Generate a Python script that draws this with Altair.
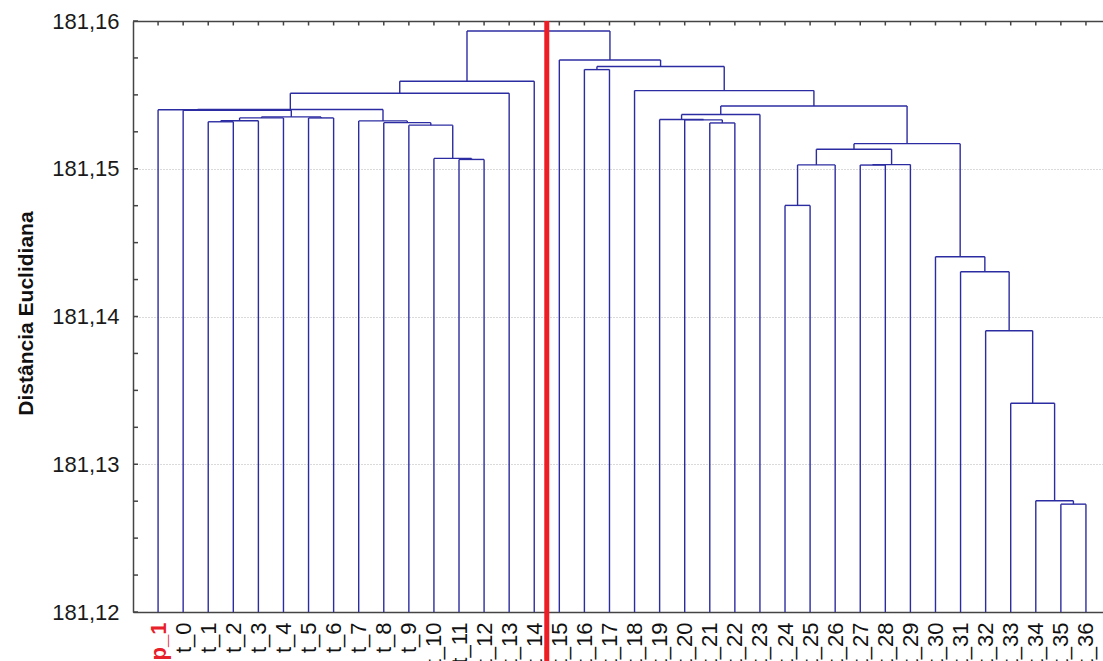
import altair as alt
import pandas as pd

# Leaves of the dendrogram, in display order
leaf_names = [
    "p_1", "t_0", "t_1", "t_2", "t_3", "t_4", "t_5", "t_6", "t_7", "t_8",
    "t_9", "t_10", "t_11", "t_12", "t_13", "t_14", "t_15", "t_16", "t_17",
    "t_18", "t_19", "t_20", "t_21", "t_22", "t_23", "t_24", "t_25", "t_26",
    "t_27", "t_28", "t_29", "t_30", "t_31", "t_32", "t_33", "t_34", "t_35",
    "t_36",
]

# Linkage table: ids < 38 are leaves, id 38 + k is the cluster made by merge k
left_child = [
    36, 35, 34, 33, 32, 31, 25, 44, 28, 46, 45, 48, 22, 21, 20, 52, 53, 19,
    17, 56, 16, 12, 11, 10, 9, 8, 2, 64, 65, 6, 66, 1, 0, 70, 71, 72, 73,
]
right_child = [
    37, 38, 39, 40, 41, 42, 26, 27, 29, 30, 47, 43, 23, 50, 51, 24, 49, 54,
    18, 55, 57, 13, 59, 60, 61, 62, 3, 4, 5, 7, 67, 68, 69, 63, 14, 15, 58,
]
merge_height = [
    181.12730, 181.12753, 181.13413, 181.13904, 181.14303, 181.14404,
    181.14752, 181.15026, 181.15025, 181.15028, 181.15132, 181.15170,
    181.15310, 181.15331, 181.15333, 181.15367, 181.15425, 181.15529,
    181.15671, 181.15692, 181.15736,
    181.15063, 181.15070, 181.15295, 181.15312, 181.15324,
    181.15318, 181.15325, 181.15344, 181.15344, 181.15351,
    181.15396, 181.15399, 181.15401, 181.15511, 181.15592, 181.15932,
]

cut_position = 15.5          # cut between t_14 and t_15
y_labels = [181.12, 181.13, 181.14, 181.15, 181.16]
y_ticks = [
    181.12, 181.1225, 181.125, 181.1275, 181.13, 181.1325, 181.135, 181.1375,
    181.14, 181.1425, 181.145, 181.1475, 181.15, 181.1525, 181.155, 181.1575,
    181.16,
]

Y_MIN, Y_MAX = 181.12, 181.16
X_MIN, X_MAX = -1.0, 37.68
FONT = "Liberation Sans"

# Dendrogram layout: leaves at their index, clusters at the midpoint of children
n = len(leaf_names)
xpos = {i: float(i) for i in range(n)}
ytop = {i: Y_MIN for i in range(n)}
rows = []
for k, (a, b, h) in enumerate(zip(left_child, right_child, merge_height)):
    xa, xb = xpos[a], xpos[b]
    rows.append({"x": xa, "x2": xa, "y": ytop[a], "y2": h})
    rows.append({"x": xb, "x2": xb, "y": ytop[b], "y2": h})
    rows.append({"x": xa, "x2": xb, "y": h, "y2": h})
    xpos[n + k] = (xa + xb) / 2
    ytop[n + k] = h
segments = pd.DataFrame(rows)

xscale = alt.Scale(domain=[X_MIN, X_MAX], nice=False, zero=False)
yscale = alt.Scale(domain=[Y_MIN, Y_MAX], nice=False, zero=False)

name_array = "[" + ",".join("'%s'" % s for s in leaf_names) + "]"

tree = alt.Chart(segments).mark_rule(color="#2c2ca2", strokeWidth=1.4).encode(
    x=alt.X(
        "x:Q", scale=xscale,
        axis=alt.Axis(
            orient="bottom", values=list(range(n)), labelExpr=name_array + "[datum.value]",
            labelAngle=270, labelAlign="right", labelBaseline="middle",
            labelPadding=10, labelFont=FONT, labelFontSize=22,
            labelColor={"condition": {"test": "datum.value == 0", "value": "#e8202a"}, "value": "#111111"},
            labelFontWeight={"condition": {"test": "datum.value == 0", "value": "bold"}, "value": "normal"},
            labelOverlap=False, ticks=False, grid=False, title=None,
            domainColor="#444444", domainWidth=1.5,
        ),
    ),
    x2="x2:Q",
    y=alt.Y(
        "y:Q", scale=yscale,
        axis=alt.Axis(
            values=y_labels, labelExpr="replace(format(datum.value, '.2f'), '.', ',')",
            labelFont=FONT, labelFontSize=22, labelColor="#1a1a1a", labelPadding=14,
            ticks=False, grid=True, gridDash=[1, 2], gridColor="#b4b4b4", gridWidth=1,
            domainColor="#444444", domainWidth=1.5,
            title="Distância Euclidiana", titleFont=FONT, titleFontSize=21,
            titleFontWeight="bold", titleColor="#111111", titleAngle=270,
            titleAlign="center", titleBaseline="alphabetic", titleX=-101, titleY=292,
        ),
    ),
    y2="y2:Q",
)

# Inward ticks along the top frame, one per leaf
top_ticks = alt.Chart(pd.DataFrame({"leaf": list(range(n))})).mark_rule(
    color="#444444", strokeWidth=1.5
).encode(
    x=alt.X("leaf:Q", scale=xscale,
            axis=alt.Axis(orient="top", labels=False, ticks=False, grid=False, title=None,
                          domainColor="#444444", domainWidth=1.5)),
    y=alt.value(0),
    y2=alt.value(4.5),
)

# Inward ticks along the left axis
left_ticks = alt.Chart(pd.DataFrame({"v": y_ticks})).mark_rule(
    color="#444444", strokeWidth=1.5
).encode(
    y=alt.Y("v:Q", scale=yscale, axis=None),
    x=alt.value(0),
    x2=alt.value(5),
)

# Cut line of the dendrogram
cut_line = alt.Chart(pd.DataFrame({"cut": [cut_position]})).mark_rule(
    color="#ee1d25", strokeWidth=5
).encode(
    x=alt.X("cut:Q", scale=xscale, axis=None),
    y=alt.value(0),
    y2=alt.value(645),
)

chart = alt.layer(tree, top_ticks, left_ticks, cut_line).resolve_axis(
    x="independent", y="independent"
).properties(
    width=970,
    height=591,
    autosize=alt.AutoSizeParams(type="none"),
    padding={"left": 133, "top": 21, "right": 0, "bottom": 49},
    background="white",
).configure_view(stroke=None)

chart.save("out.html", embed_options={"renderer": "svg", "actions": False})
